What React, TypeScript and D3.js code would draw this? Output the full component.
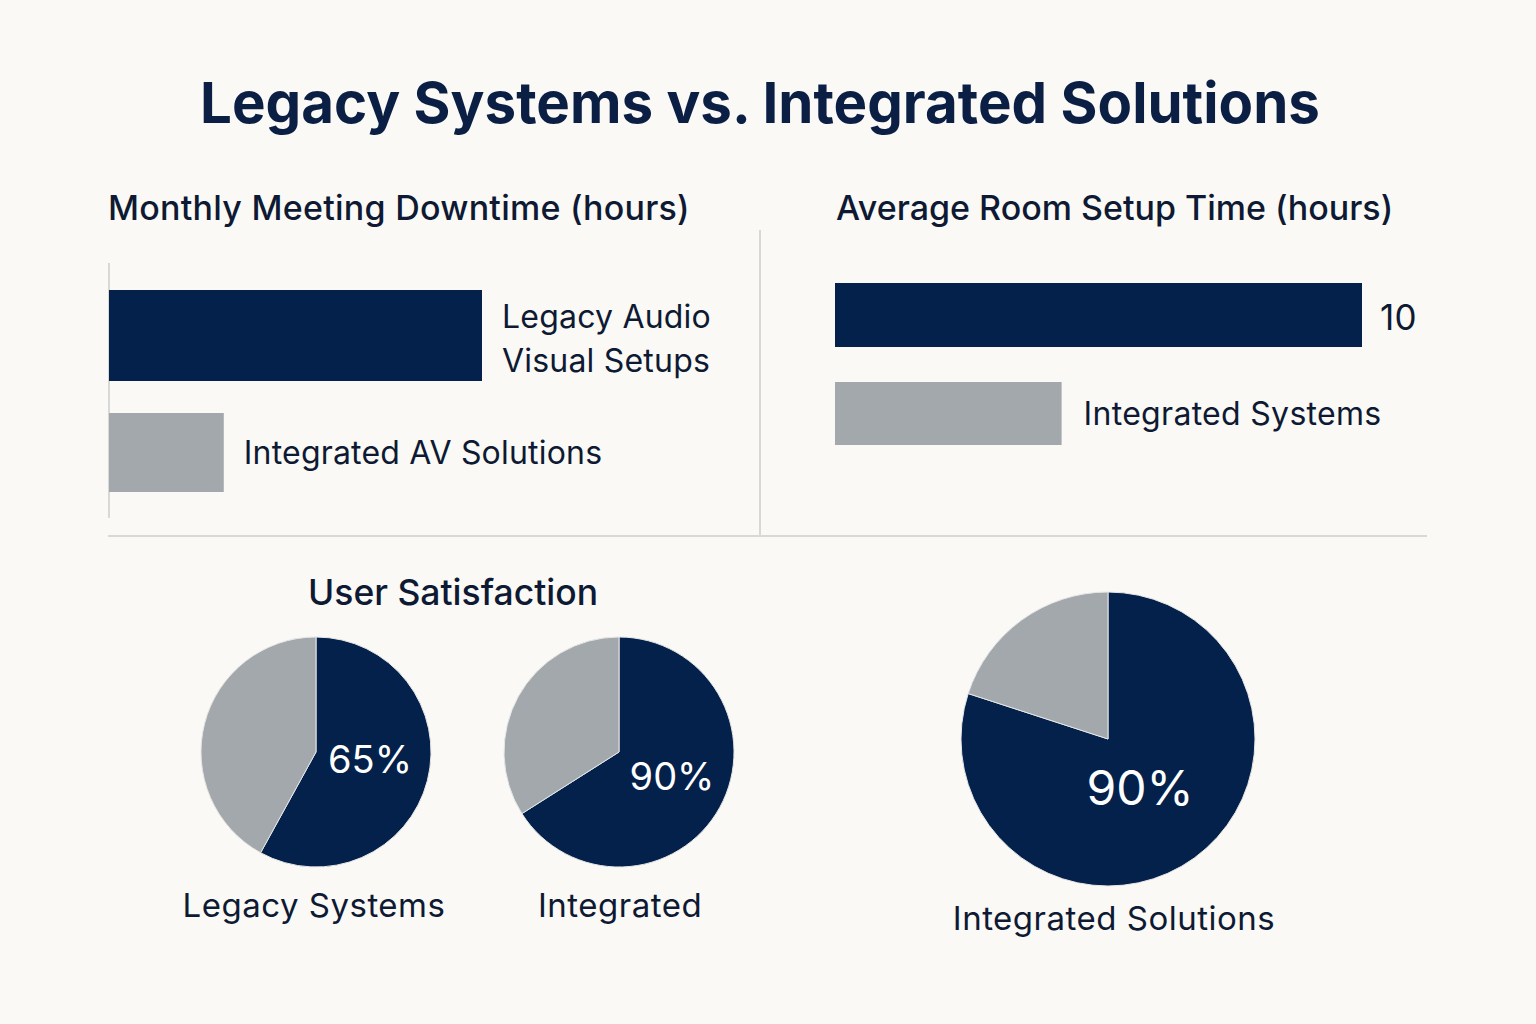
import React from "react";
import * as d3 from "d3";

const TITLE = "Legacy Systems vs. Integrated Solutions";

// Monthly Meeting Downtime (hours)
const downtimeCategories = ["Legacy Audio|Visual Setups", "Integrated AV Solutions"];
const downtimeValues = [13, 4];

// Average Room Setup Time (hours)
const setupCategories = ["Legacy", "Integrated Systems"];
const setupValues = [10, 4.3];
const setupValueLabels = ["10", ""];

// User Satisfaction pies: drawn shares [satisfied, rest] and printed labels
const pieNames = ["Legacy Systems", "Integrated", "Integrated Solutions"];
const pieShares = [
  [58, 42],
  [66, 34],
  [80, 20],
];
const pieLabels = ["65%", "90%", "90%"];

const NAVY = "#03214A";
const GRAY = "#A3A8AC";
const BG = "#FBF9F5";
const TEXT = "#0E1A33";
const RULE = "#CDCDCD";
const FONT = "Inter, 'Noto Sans', sans-serif";

// layout (not data)
const leftThickness = [91, 79];
const rightThickness = [64, 63];

export default function App() {
  // left bars
  const xL = d3.scaleLinear().domain([0, 13]).range([109, 482]);
  const yL = d3.scalePoint().domain(downtimeCategories).range([335.5, 452.5]);
  // right bars
  const xR = d3.scaleLinear().domain([0, 10]).range([835, 1362]);
  const yR = d3.scalePoint().domain(setupCategories).range([315, 413.5]);

  const pie = d3.pie<number>().sort(null).value((d) => d);
  const pieGeo = [
    { cx: 316, cy: 752, r: 115, lx: 370, ly: 773, fs: 38 },
    { cx: 619, cy: 752, r: 115, lx: 672, ly: 790, fs: 38 },
    { cx: 1108, cy: 739, r: 147, lx: 1140, ly: 805, fs: 48 },
  ];
  const nameX = [314, 620, 1114];
  const nameY = [917, 917, 930];

  return (
    <svg
      width={1536}
      height={1024}
      style={{ position: "absolute", left: 0, top: 0, display: "block" }}
      fontFamily={FONT}
    >
      <rect x={0} y={0} width={1536} height={1024} fill={BG} />
      <text x={760} y={123} textAnchor="middle" fontSize={57} fontWeight={700} fill="#0B1F45" textLength={1120} lengthAdjust="spacingAndGlyphs">
        {TITLE}
      </text>

      {/* Left panel */}
      <text x={108} y={220} fontSize={34} fontWeight={500} fill={TEXT} letterSpacing={0.25}>
        Monthly Meeting Downtime (hours)
      </text>
      <line x1={109} x2={109} y1={263} y2={518} stroke={RULE} strokeWidth={1.5} />
      {downtimeCategories.map((c, i) => {
        const cy = yL(c)!;
        const h = leftThickness[i];
        const lines = c.split("|");
        const x = xL(downtimeValues[i]);
        const base = lines.length > 1 ? cy - 8 : cy + 11.5;
        return (
          <g key={c}>
            <rect x={xL(0)} y={cy - h / 2} width={x - xL(0)} height={h} fill={i === 0 ? NAVY : GRAY} />
            <text x={x + 20} y={base} fontSize={32} fill={TEXT} letterSpacing={0.2}>
              {lines.map((l, k) => (
                <tspan key={k} x={x + 20} dy={k === 0 ? 0 : 44}>
                  {l}
                </tspan>
              ))}
            </text>
          </g>
        );
      })}

      <line x1={760} x2={760} y1={230} y2={535} stroke={RULE} strokeWidth={1.5} />
      <line x1={108} x2={1427} y1={536} y2={536} stroke={RULE} strokeWidth={1.5} />

      {/* Right panel */}
      <text x={836} y={220} fontSize={34} fontWeight={500} fill={TEXT}>
        Average Room Setup Time (hours)
      </text>
      {setupCategories.map((c, i) => {
        const cy = yR(c)!;
        const h = rightThickness[i];
        const x = xR(setupValues[i]);
        const label = setupValueLabels[i] || c;
        return (
          <g key={c}>
            <rect x={xR(0)} y={cy - h / 2} width={x - xR(0)} height={h} fill={i === 0 ? NAVY : GRAY} />
            <text
              x={x + (i === 0 ? 18 : 22)}
              y={cy + (i === 0 ? 15 : 11.5)}
              fontSize={i === 0 ? 35 : 32}
              fill={TEXT}
              letterSpacing={0.3}
            >
              {label}
            </text>
          </g>
        );
      })}

      {/* Pies */}
      <text x={453} y={605} textAnchor="middle" fontSize={35.5} fontWeight={500} fill={TEXT}>
        User Satisfaction
      </text>
      {pieShares.map((shares, i) => {
        const g = pieGeo[i];
        const arc = d3.arc<d3.PieArcDatum<number>>().innerRadius(0).outerRadius(g.r);
        const arcs = pie(shares);
        return (
          <g key={i}>
            <g transform={`translate(${g.cx},${g.cy})`}>
              {arcs.map((a, k) => (
                <path key={k} d={arc(a)!} fill={k === 0 ? NAVY : GRAY} stroke="#E6E6E6" strokeWidth={1} />
              ))}
            </g>
            <text x={g.lx} y={g.ly} textAnchor="middle" fontSize={g.fs} fontWeight={400} fill="#FFFFFF">
              {pieLabels[i]}
            </text>
            <text x={nameX[i]} y={nameY[i]} textAnchor="middle" fontSize={33} fill={TEXT} letterSpacing={0.5}>
              {pieNames[i]}
            </text>
          </g>
        );
      })}
    </svg>
  );
}
